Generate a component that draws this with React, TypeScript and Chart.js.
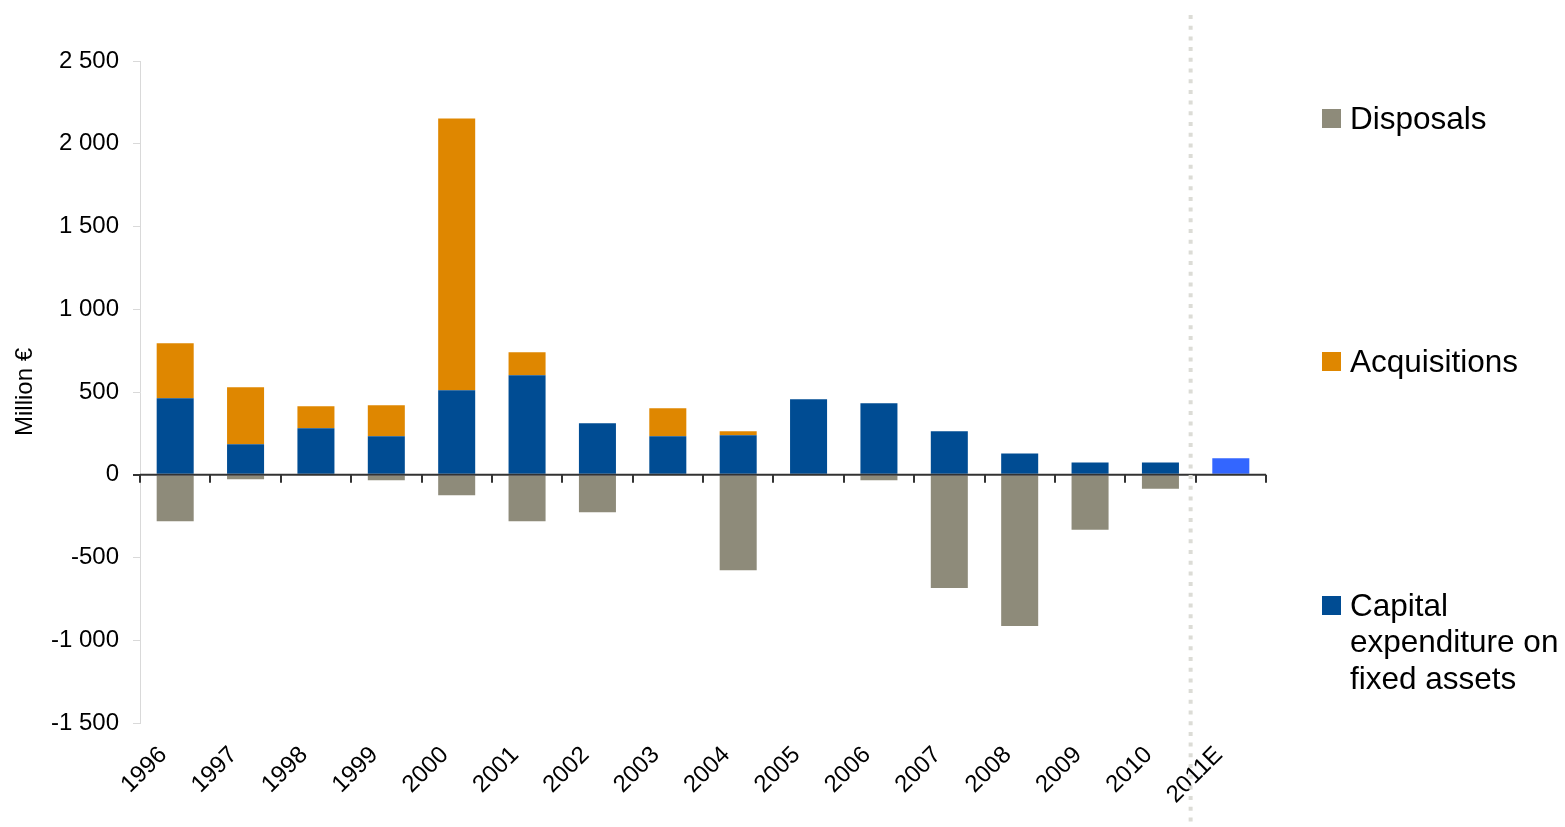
import React, { useEffect, useRef } from "react";
import { Chart, registerables } from "chart.js";

Chart.register(...registerables);

const years = ["1996", "1997", "1998", "1999", "2000", "2001", "2002", "2003", "2004", "2005", "2006", "2007", "2008", "2009", "2010", "2011E"];
const capex = [462, 184, 281, 232, 510, 601, 311, 232, 239, 456, 432, 263, 129, 74, 74, 100];
const acquisitions = [332, 344, 133, 188, 1643, 139, 0, 170, 24, 0, 0, 0, 0, 0, 0, 0];
const disposals = [-281, -27, 0, -33, -124, -281, -226, 0, -577, 0, -33, -685, -914, -333, -85, 0];
const yTicks = [-1500, -1000, -500, 0, 500, 1000, 1500, 2000, 2500];

const C_CAPEX = "#004C93";
const C_EST = "#3366FF";
const C_ACQ = "#DF8700";
const C_DISP = "#8E8B7A";
const FONT = "'Liberation Sans', Arial, sans-serif";

const fmt = (v: number) => {
  const s = Math.abs(v).toString().replace(/\B(?=(\d{3})+(?!\d))/g, " ");
  return (v < 0 ? "-" : "") + s;
};

const overlayPlugin = {
  id: "overlay",
  afterDatasetsDraw(chart: any) {
    const { ctx, scales } = chart;
    const x = scales.x;
    const y = scales.y;
    const y0 = y.getPixelForValue(0);
    const n = years.length;
    const step = x.getPixelForValue(1) - x.getPixelForValue(0);
    ctx.save();
    ctx.strokeStyle = "#333333";
    ctx.lineWidth = 2;
    ctx.beginPath();
    const left = x.getPixelForValue(0) - step / 2;
    const right = x.getPixelForValue(n - 1) + step / 2;
    ctx.moveTo(left, y0);
    ctx.lineTo(right, y0);
    ctx.stroke();
    for (let i = 0; i <= n; i++) {
      const px = Math.round(x.getPixelForValue(i) - step / 2);
      ctx.beginPath();
      ctx.moveTo(px, y0);
      ctx.lineTo(px, y0 + 8);
      ctx.stroke();
    }
    const sep = (x.getPixelForValue(n - 2) + x.getPixelForValue(n - 1)) / 2 - 5;
    ctx.strokeStyle = "#DCDCD6";
    ctx.lineWidth = 4;
    ctx.setLineDash([4, 6.7]);
    ctx.beginPath();
    ctx.moveTo(sep, 15);
    ctx.lineTo(sep, 824);
    ctx.stroke();
    ctx.restore();
  },
};

export default function App() {
  const ref = useRef<HTMLCanvasElement | null>(null);

  useEffect(() => {
    document.body.style.margin = "0";
    if (!ref.current) return;
    const chart = new Chart(ref.current, {
      type: "bar",
      data: {
        labels: years,
        datasets: [
          {
            label: "Capital expenditure on fixed assets",
            data: capex,
            backgroundColor: years.map((yr) => (yr.endsWith("E") ? C_EST : C_CAPEX)),
            stack: "s",
          },
          {
            label: "Acquisitions",
            data: acquisitions,
            backgroundColor: C_ACQ,
            stack: "s",
          },
          {
            label: "Disposals",
            data: disposals,
            backgroundColor: C_DISP,
            stack: "s",
          },
        ],
      },
      options: {
        animation: false,
        responsive: false,
        maintainAspectRatio: false,
        layout: { padding: { left: 0, top: 61, right: 299, bottom: 0 } },
        plugins: {
          legend: { display: false },
          tooltip: { enabled: false },
        },
        datasets: {
          bar: { categoryPercentage: 1, barPercentage: 0.526 },
        },
        scales: {
          x: {
            stacked: true,
            grid: { display: false },
            border: { display: false },
            ticks: {
              minRotation: 45,
              maxRotation: 45,
              color: "#000",
              padding: 10,
              labelOffset: -12,
              font: { family: FONT, size: 24 },
            },
            afterFit(scale: any) {
              scale.height = 104;
            },
          },
          y: {
            stacked: true,
            min: -1500,
            max: 2500,
            afterBuildTicks(scale: any) {
              scale.ticks = yTicks.map((v) => ({ value: v }));
            },
            grid: {
              drawOnChartArea: false,
              tickLength: 7,
              color: (c: any) => (c.tick && c.tick.value === 0 ? "#333333" : "#D9D9D9"),
              lineWidth: (c: any) => (c.tick && c.tick.value === 0 ? 2 : 1),
            },
            border: { color: "#D9D9D9", width: 1 },
            ticks: {
              color: "#000",
              padding: 14,
              font: { family: FONT, size: 24 },
              callback: (v: any) => fmt(Number(v)),
            },
            title: {
              display: true,
              text: "Million €",
              color: "#000",
              padding: { top: 11, bottom: 0 },
              font: { family: FONT, size: 24 },
            },
            afterFit(scale: any) {
              scale.width = 140;
            },
          },
        },
      },
      plugins: [overlayPlugin],
    });
    return () => chart.destroy();
  }, []);

  const sq = (color: string, top: number) => (
    <div style={{ position: "absolute", left: 1322, top, width: 19, height: 19, background: color }} />
  );
  const txt: React.CSSProperties = {
    position: "absolute",
    left: 1350,
    fontFamily: FONT,
    fontSize: 31.5,
    lineHeight: "36.5px",
    color: "#000",
    whiteSpace: "nowrap",
  };

  return (
    <div style={{ position: "fixed", left: 0, top: 0, width: 1565, height: 827, background: "#fff" }}>
      <canvas ref={ref} width={1565} height={827} style={{ display: "block" }} />
      {sq(C_DISP, 109)}
      <div style={{ ...txt, top: 118 - 18.25 }}>Disposals</div>
      {sq(C_ACQ, 352)}
      <div style={{ ...txt, top: 361 - 18.25 }}>Acquisitions</div>
      {sq(C_CAPEX, 596)}
      <div style={{ ...txt, top: 605 - 18.25 }}>
        Capital
        <br />
        expenditure on
        <br />
        fixed assets
      </div>
    </div>
  );
}
